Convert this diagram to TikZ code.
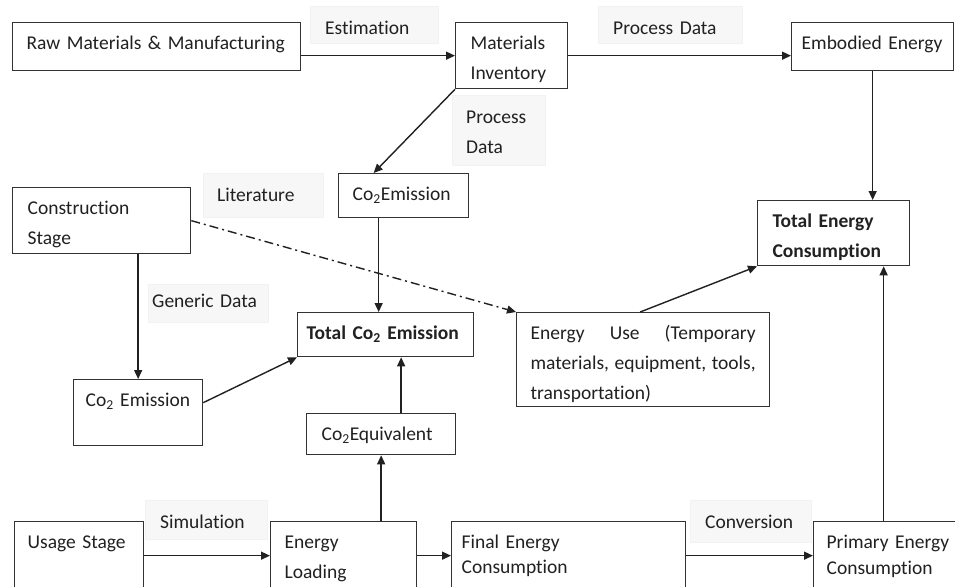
\documentclass[tikz,border=0pt]{standalone}
\usepackage{fontspec}
\setmainfont{Carlito}[Ligatures=NoCommon]
\usetikzlibrary{arrows.meta,calc}
\tikzset{>={Triangle[length=9pt,width=8pt]}}
\definecolor{boxline}{gray}{0.2}
\definecolor{inkgray}{gray}{0.13}
\newcommand\boxfont{\fontsize{19.5}{30}\selectfont\hyphenpenalty=10000\exhyphenpenalty=10000}
\tikzset{
  box/.style={draw=boxline, line width=1.3pt, fill=white, anchor=north west,
    inner xsep=14pt, inner ysep=0pt, text height=27pt, align=left,
    text=inkgray, font=\boxfont},
  tag/.style={fill=black!3, draw=black!5, anchor=north west,
    inner xsep=15pt, inner ysep=0pt, text height=28pt, align=left,
    text=inkgray, font=\boxfont},
  link/.style={->, line width=1.4pt, draw=inkgray},
  litline/.style={link, dash pattern=on 9pt off 4pt on 2pt off 4pt}
}

\begin{document}
\begin{tikzpicture}[x=1pt,y=-1pt]
\fill[white] (0,0) rectangle (955,586);
\useasboundingbox (0,0) rectangle (955,586);
\clip (0,0) rectangle (955,586);

% labels on the flows
\node[tag, text width=98pt, text depth=9pt] (estim) at (310,6) {Estimation};
\node[tag, text width=114pt, text depth=9pt] (pdtop) at (598,6) {Process Data};
\node[tag, inner xsep=14pt, text width=65pt, text depth=42pt] (pdmid) at (452,95) {Process\\Data};
\node[tag, inner xsep=14pt, text width=92pt, text depth=16pt] (lit) at (203,173) {Literature};
\node[tag, inner xsep=4pt, text height=23pt, text width=112pt, text depth=15pt] (gen) at (148,284) {Generic Data};
\node[tag, text width=92pt, text depth=11pt] (sim) at (145,500) {Simulation};
\node[tag, text width=91pt, text depth=14pt] (conv) at (690,500) {Conversion};

% boxes
\node[box, text width=260pt, text depth=21pt] (raw) at (12,22) {Raw Materials \& Manufacturing};
\node[box, inner xsep=15pt, text width=82pt, text depth=39pt] (inv) at (455,22) {Materials\\Inventory};
\node[box, inner xsep=10pt, text width=142pt, text depth=21pt] (emb) at (791,22) {Embodied Energy};
\node[box, inner xsep=14pt, text width=102pt, text depth=17pt] (co2a) at (338,173) {Co\textsubscript{2}Emission};
\node[box, inner xsep=15pt, text width=148pt, text depth=39pt] (cons) at (12,187) {Construction\\Stage};
\node[box, inner xsep=15pt, text width=122pt, text depth=38pt, font=\boxfont\bfseries] (tec) at (757,200) {Total Energy\\Consumption};
\node[box, inner xsep=9pt, text width=158pt, text depth=17pt, font=\boxfont\bfseries] (tco) at (297,312) {Total Co\textsubscript{2}~Emission};
\node[box, inner xsep=12pt, text width=105pt, text depth=39pt] (co2b) at (73,379) {Co\textsubscript{2}~Emission};
\node[box, inner xsep=14pt, text width=225pt, text depth=67pt, align=justify] (eu) at (516,312) {Energy Use (Temporary materials, equipment, tools, transportation)};
\node[box, inner xsep=15pt, text width=119pt, text depth=14pt] (co2e) at (306,413) {Co\textsubscript{2}Equivalent};
\node[box, inner xsep=13pt, text width=103pt, text depth=41pt] (usage) at (14,521) {Usage Stage};
\node[box, inner xsep=14pt, text width=118pt, text depth=41pt] (el) at (270,521) {Energy\\Loading};
\node[box, inner xsep=10pt, text width=214pt, text depth=41pt, font=\boxfont\fontsize{19.5}{25}\selectfont] (fin) at (451,521) {Final Energy\\Consumption};
\node[box, inner xsep=13pt, text width=124pt, text depth=41pt, font=\boxfont\fontsize{19.5}{26}\selectfont] (prim) at (813,521) {Primary Energy\\Consumption};

% flows
\draw[link] (inv.west -| raw.east) -- (inv.west);
\draw[link] (inv.east) -- (inv.east -| emb.west);
\draw[link] (inv.south west) -- ([xshift=-30pt]co2a.north);
\draw[link] (emb.south) -- (emb.south |- tec.north);
\draw[link] ([xshift=-25pt]co2a.south) -- ([xshift=-25pt]co2a.south |- tco.north);
\draw[link] (co2b.north |- cons.south) -- (co2b.north);
\draw[link] ([yshift=10pt]co2b.east) -- (tco.south west);
\draw[litline] (cons.east) -- (eu.north west);
\draw[link] ([xshift=-3pt]eu.north) -- (tec.south west);
\draw[link] ([xshift=20pt]co2e.north) -- ([xshift=20pt]co2e.north |- tco.south);
\draw[link] (el.north -| co2e.south) -- (co2e.south);
\draw[link] (usage.east) -- (el.west);
\draw[link] (el.east) -- (fin.west);
\draw[link] (fin.east) -- (prim.west);
\draw[link] ([xshift=-5pt]prim.north) -- ([xshift=-5pt]prim.north |- tec.south);
\end{tikzpicture}
\end{document}
